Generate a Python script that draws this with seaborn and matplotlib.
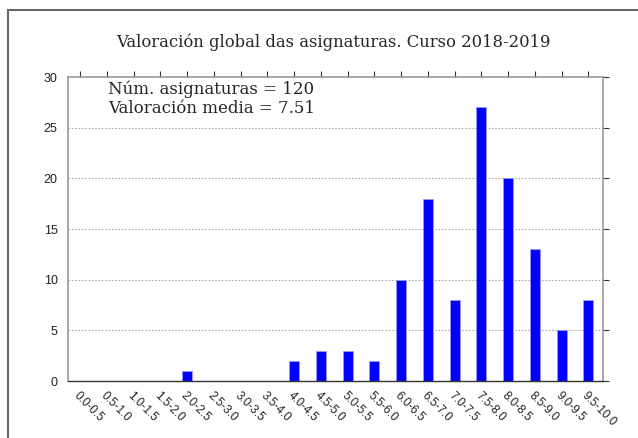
import matplotlib
matplotlib.use('Agg')
import matplotlib.pyplot as plt
import matplotlib.patches as patches
import seaborn as sns
import pandas as pd

# intervalos de valoración e número de asignaturas en cada un
intervals = ['0.0-0.5', '0.5-1.0', '1.0-1.5', '1.5-2.0', '2.0-2.5', '2.5-3.0',
             '3.0-3.5', '3.5-4.0', '4.0-4.5', '4.5-5.0', '5.0-5.5', '5.5-6.0',
             '6.0-6.5', '6.5-7.0', '7.0-7.5', '7.5-8.0', '8.0-8.5', '8.5-9.0',
             '9.0-9.5', '9.5-10.0']
counts = [0, 0, 0, 0, 1, 0, 0, 0, 2, 3, 3, 2, 10, 18, 8, 27, 20, 13, 5, 8]
y_ticks = [0, 5, 10, 15, 20, 25, 30]

title = 'Valoración global das asignaturas. Curso 2018-2019'
info_lines = ['Núm. asignaturas = 120', 'Valoración media = 7.51']

df = pd.DataFrame({'intervalo': intervals, 'n': counts})

sns.set_style('white')
plt.rcParams['font.family'] = ['Liberation Sans', 'DejaVu Sans']

fig = plt.figure(figsize=(6.38, 4.38), dpi=100)
ax = fig.add_axes([68 / 638, 1 - 381 / 438, 535 / 638, 304 / 438])

sns.barplot(data=df, x='intervalo', y='n', color='#0000ff', saturation=1,
            width=0.375, edgecolor='#9999ff', linewidth=0.6, ax=ax)

ax.set_xlim(-0.45, 19.55)
ax.set_ylim(0, 30)
ax.set_yticks(y_ticks)
ax.set_xlabel('')
ax.set_ylabel('')

for y in y_ticks[1:-1]:
    ax.axhline(y, color='#aaaaaa', linestyle=(0, (1.5, 1.5)), linewidth=0.8, zorder=0)

for side in ['left', 'right', 'top']:
    ax.spines[side].set_color('#999999')
    ax.spines[side].set_linewidth(1.2)
ax.spines['bottom'].set_color('#333333')
ax.spines['bottom'].set_linewidth(1.0)

ax.tick_params(axis='both', direction='out', length=4, width=0.8, color='#333333',
               top=True, right=True, labelsize=9, labelcolor='#222222')
ax.tick_params(axis='x', labelsize=8.5, pad=2)
plt.setp(ax.get_xticklabels(), rotation=-45, ha='left', va='top',
         rotation_mode='anchor')

for i, line in enumerate(info_lines):
    ax.text(0.075, 0.96 - i * 0.065, line, transform=ax.transAxes,
            family='DejaVu Serif', fontsize=12, va='center', ha='left')

fig.text(333 / 638, 1 - 42 / 438, title, family='DejaVu Serif', fontsize=11.8,
         ha='center', va='center')

# marco exterior
frame = patches.Rectangle((8 / 638, -0.1), 1.2, (438 - 10) / 438 + 0.1,
                          transform=fig.transFigure, fill=False,
                          edgecolor='#666666', linewidth=1.5, clip_on=False)
fig.patches.append(frame)

fig.savefig('out.png', dpi=100)
